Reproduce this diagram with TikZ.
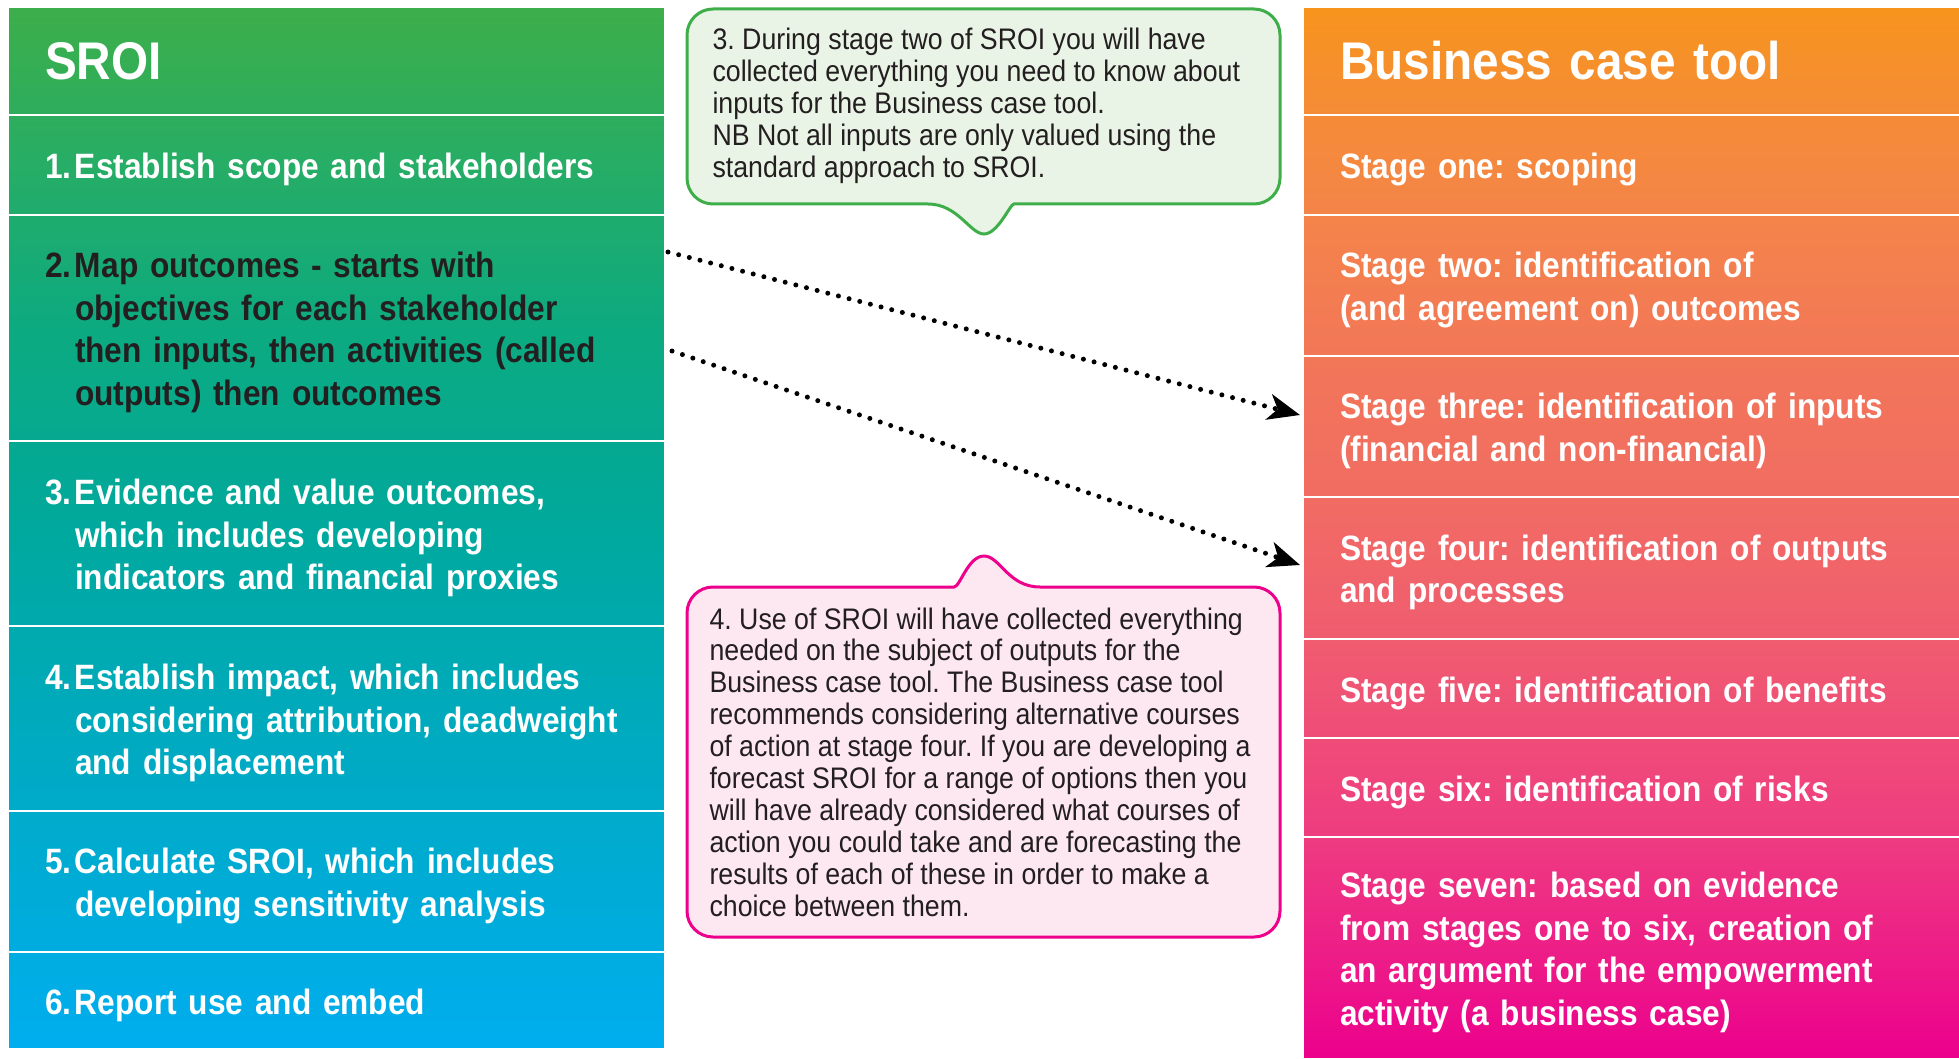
\documentclass[tikz,border=0pt]{standalone}
\usepackage{fontspec}
\setmainfont{Liberation Sans}[FakeStretch=0.9]
\frenchspacing
\usetikzlibrary{positioning,arrows.meta,backgrounds}

\definecolor{sroitop}{HTML}{3DAE4A}
\definecolor{sroia}{HTML}{27AD65}
\definecolor{sroib}{HTML}{0CAA80}
\definecolor{sroic}{HTML}{00A99D}
\definecolor{sroid}{HTML}{00AABD}
\definecolor{sroie}{HTML}{00ABD5}
\definecolor{sroibot}{HTML}{00AEEF}
\definecolor{bcttop}{HTML}{F7941D}
\definecolor{bcta}{HTML}{F58C36}
\definecolor{bctb}{HTML}{F4844A}
\definecolor{bctc}{HTML}{F27658}
\definecolor{bctd}{HTML}{F16C63}
\definecolor{bcte}{HTML}{F05C70}
\definecolor{bctf}{HTML}{EF4C78}
\definecolor{bctg}{HTML}{EE3B80}
\definecolor{bcth}{HTML}{ED1E87}
\definecolor{bctbot}{HTML}{EC008C}
\definecolor{ink}{HTML}{231F20}
\definecolor{notegreen}{HTML}{EAF4E6}
\definecolor{notepink}{HTML}{FDE8F1}

\pgfdeclareverticalshading{sroigrad}{100bp}{color(0bp)=(sroibot); color(25bp)=(sroibot);
  color(33.1bp)=(sroie); color(40.8bp)=(sroid); color(49.9bp)=(sroic); color(59.5bp)=(sroib);
  color(67.6bp)=(sroia); color(75bp)=(sroitop); color(100bp)=(sroitop)}
\pgfdeclareverticalshading{bctgrad}{100bp}{color(0bp)=(bctbot); color(25bp)=(bctbot);
  color(30.2bp)=(bcth); color(35.4bp)=(bctg); color(40.2bp)=(bctf); color(44.9bp)=(bcte);
  color(51.6bp)=(bctd); color(58.2bp)=(bctc); color(64.9bp)=(bctb); color(70.1bp)=(bcta);
  color(75bp)=(bcttop); color(100bp)=(bcttop)}

% row texts, set a little low in their boxes
\newcommand{\numrows}[1]{\raisebox{-5pt}[\height][\depth]{\begin{tabular}{@{}p{30pt}@{}l@{}}#1\end{tabular}}}
\newcommand{\stagerows}[1]{\raisebox{-5pt}[\height][\depth]{\begin{tabular}{@{}l@{}}#1\end{tabular}}}

\tikzset{
  row/.style={rectangle, draw=white, line width=2.5pt, outer sep=0pt,
    inner xsep=37pt, inner ysep=0pt, text width=583pt, minimum width=657pt,
    align=left, text=white, font=\bfseries\fontsize{35.2}{42.5}\selectfont},
  headrow/.style={row, minimum height=108pt, font=\bfseries\fontsize{53}{60}\selectfont},
  note/.style={text=ink, align=left, anchor=west, font=\fontsize{29.7}{31.9}\selectfont},
  dotarrow/.style={line width=5pt, line cap=round, dash pattern=on 0pt off 11pt,
    -{Stealth[length=32pt,width=26pt,inset=9pt]}},
}

\begin{document}
\begin{tikzpicture}[x=1pt,y=-1pt]
  \useasboundingbox (0,0) rectangle (1959,1059);

  % SROI column
  \node[headrow] (sh) at (336.5,61) {SROI};
  \node[row, minimum height=100pt] (s1) [below=0pt of sh] {\numrows{1.&Establish scope and stakeholders}};
  \node[row, minimum height=226pt, text=ink] (s2) [below=0pt of s1] {\numrows{2.&Map outcomes - starts with\\
    &objectives for each stakeholder\\ &then inputs, then activities (called\\ &outputs) then outcomes}};
  \node[row, minimum height=185pt] (s3) [below=0pt of s2] {\numrows{3.&Evidence and value outcomes,\\
    &which includes developing\\ &indicators and financial proxies}};
  \node[row, minimum height=185pt] (s4) [below=0pt of s3] {\numrows{4.&Establish impact, which includes\\
    &considering attribution, deadweight\\ &and displacement}};
  \node[row, minimum height=141pt] (s5) [below=0pt of s4] {\numrows{5.&Calculate SROI, which includes\\
    &developing sensitivity analysis}};
  \node[row, minimum height=97pt] (s6) [below=0pt of s5] {\numrows{6.&Report use and embed}};

  % Business case tool column
  \node[headrow] (bh) at (1631.5,61) {Business case tool};
  \node[row, minimum height=100pt] (b1) [below=0pt of bh] {\stagerows{Stage one: scoping}};
  \node[row, minimum height=141pt] (b2) [below=0pt of b1] {\stagerows{Stage two: identification of\\(and agreement on) outcomes}};
  \node[row, minimum height=141pt] (b3) [below=0pt of b2] {\stagerows{Stage three: identification of inputs\\(financial and non-financial)}};
  \node[row, minimum height=142pt] (b4) [below=0pt of b3] {\stagerows{Stage four: identification of outputs\\and processes}};
  \node[row, minimum height=99pt] (b5) [below=0pt of b4] {\stagerows{Stage five: identification of benefits}};
  \node[row, minimum height=99pt] (b6) [below=0pt of b5] {\stagerows{Stage six: identification of risks}};
  \node[row, minimum height=222pt] (b7) [below=0pt of b6] {\stagerows{Stage seven: based on evidence\\from stages one to six, creation of\\
    an argument for the empowerment\\activity (a business case)}};

  \begin{scope}[on background layer]
    \shade[shading=sroigrad] (sh.north west) rectangle (s6.south east);
    \shade[shading=bctgrad] (bh.north west) rectangle (b7.south east);
  \end{scope}

  % callouts
  \draw[line width=3pt, draw=sroitop, fill=notegreen] (984,234) .. controls (970,234) and (958,204) .. (928,204)
    [rounded corners=26pt] -- (687,204) -- (687,9) -- (1280,9) -- (1280,204) -- (1040,204)
    [sharp corners] .. controls (1010,204) and (998,234) .. (984,234) -- cycle;
  \node[note] (n3) at (709,106) {3. During stage two of SROI you will have\\collected everything you need to know about\\
    inputs for the Business case tool.\\NB Not all inputs are only valued using the\\standard approach to SROI.};

  \draw[line width=3pt, draw=bctbot, fill=notepink] (984,556) .. controls (1000,556) and (1008,587) .. (1040,587)
    [rounded corners=26pt] -- (1280,587) -- (1280,937) -- (687,937) -- (687,587) -- (928,587)
    [sharp corners] .. controls (960,587) and (968,556) .. (984,556) -- cycle;
  \node[note] (n4) at (706,762) {4. Use of SROI will have collected everything\\needed on the subject of outputs for the\\
    Business case tool. The Business case tool\\recommends considering alternative courses\\
    of action at stage four. If you are developing a\\forecast SROI for a range of options then you\\
    will have already considered what courses of\\action you could take and are forecasting the\\
    results of each of these in order to make a\\choice between them.};

  % links
  \draw[dotarrow] ([xshift=3pt,yshift=-37pt]s2.north east) -- ([xshift=-3pt,yshift=11.5pt]b3.west);
  \draw[dotarrow] ([xshift=7pt,yshift=90pt]s2.south east) -- ([xshift=-3pt,yshift=3pt]b4.west);
\end{tikzpicture}
\end{document}
